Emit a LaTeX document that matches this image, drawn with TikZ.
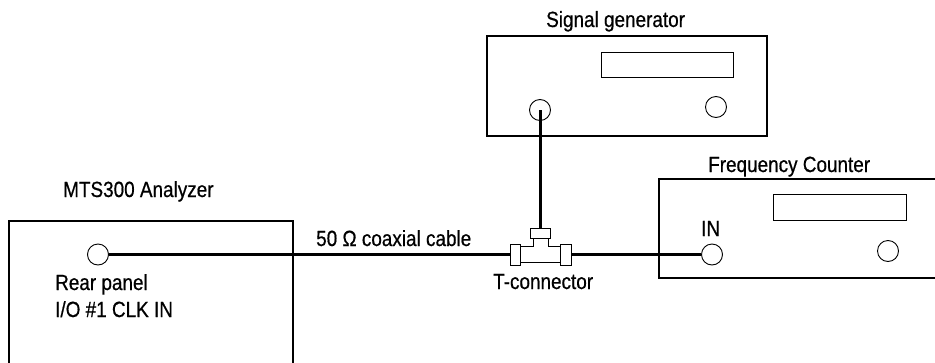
\documentclass[tikz,border=0pt]{standalone}
\usepackage{fontspec}
\setmainfont[FakeStretch=0.86,FakeBold=0.6]{Liberation Sans}
\begin{document}
\begin{tikzpicture}[x=1pt,y=-1pt,
  box/.style={draw,line width=2.2pt},
  thin/.style={draw,line width=0.9pt},
  port/.style={circle,draw,line width=0.9pt,minimum size=21pt,inner sep=0pt,fill=white},
  cable/.style={line width=3pt},
  part/.style={draw,line width=0.9pt,fill=white,inner sep=0pt},
  lbl/.style={anchor=base west,inner sep=0pt,font=\fontsize{22}{25}\selectfont}]
\useasboundingbox (0,0) rectangle (935,362);
\clip (0,0) rectangle (935,362);
% boxes
\draw[box] (9,221) rectangle (293,380);
\draw[box] (487,36) rectangle (767,136);
\draw[box] (659,179) rectangle (960,278);
% displays
\draw[thin] (601,52) rectangle (733,77);
\draw[thin] (773,194) rectangle (906,220);
% ports
\node[port] (ana) at (98,254.5) {};
\node[port] (sgin) at (540,110) {};
\node[port] (sgr) at (716,107) {};
\node[port] (fin) at (712,254.5) {};
\node[port] (fcr) at (888,251) {};
% T-connector
\draw[part] (520,246) -- (533,246) -- (533,238) -- (548,238) -- (548,246) -- (560,246) -- (560,262) -- (520,262) -- cycle;
\node[part,minimum width=10pt,minimum height=21pt] (tlf) at (515,254.5) {};
\node[part,minimum width=11pt,minimum height=21pt] (trf) at (565.5,254.5) {};
\node[part,minimum width=20pt,minimum height=10pt] (ttop) at (540,233) {};
% cables
\draw[cable] (ana.east) -- (tlf.west);
\draw[cable] (trf.east) -- (fin.west);
\draw[cable] (sgin.center) -- (sgin.center |- ttop.north);
% labels
\node[lbl] (tsg) at (546,27) {Signal generator};
\node[lbl] (tfc) at (708,172) {Frequency Counter};
\node[lbl] (tmts) at (63,197) {MTS300 Analyzer};
\node[lbl] (tcab) at (316,246) {50 Ω coaxial cable};
\node[lbl] (ttc) at (493,289) {T-connector};
\node[lbl] (trp) at (55,290) {Rear panel};
\node[lbl] (tio) at (55,317) {I/O \#1 CLK IN};
\node[lbl] (tin) at (701,236) {IN};
\end{tikzpicture}
\end{document}
